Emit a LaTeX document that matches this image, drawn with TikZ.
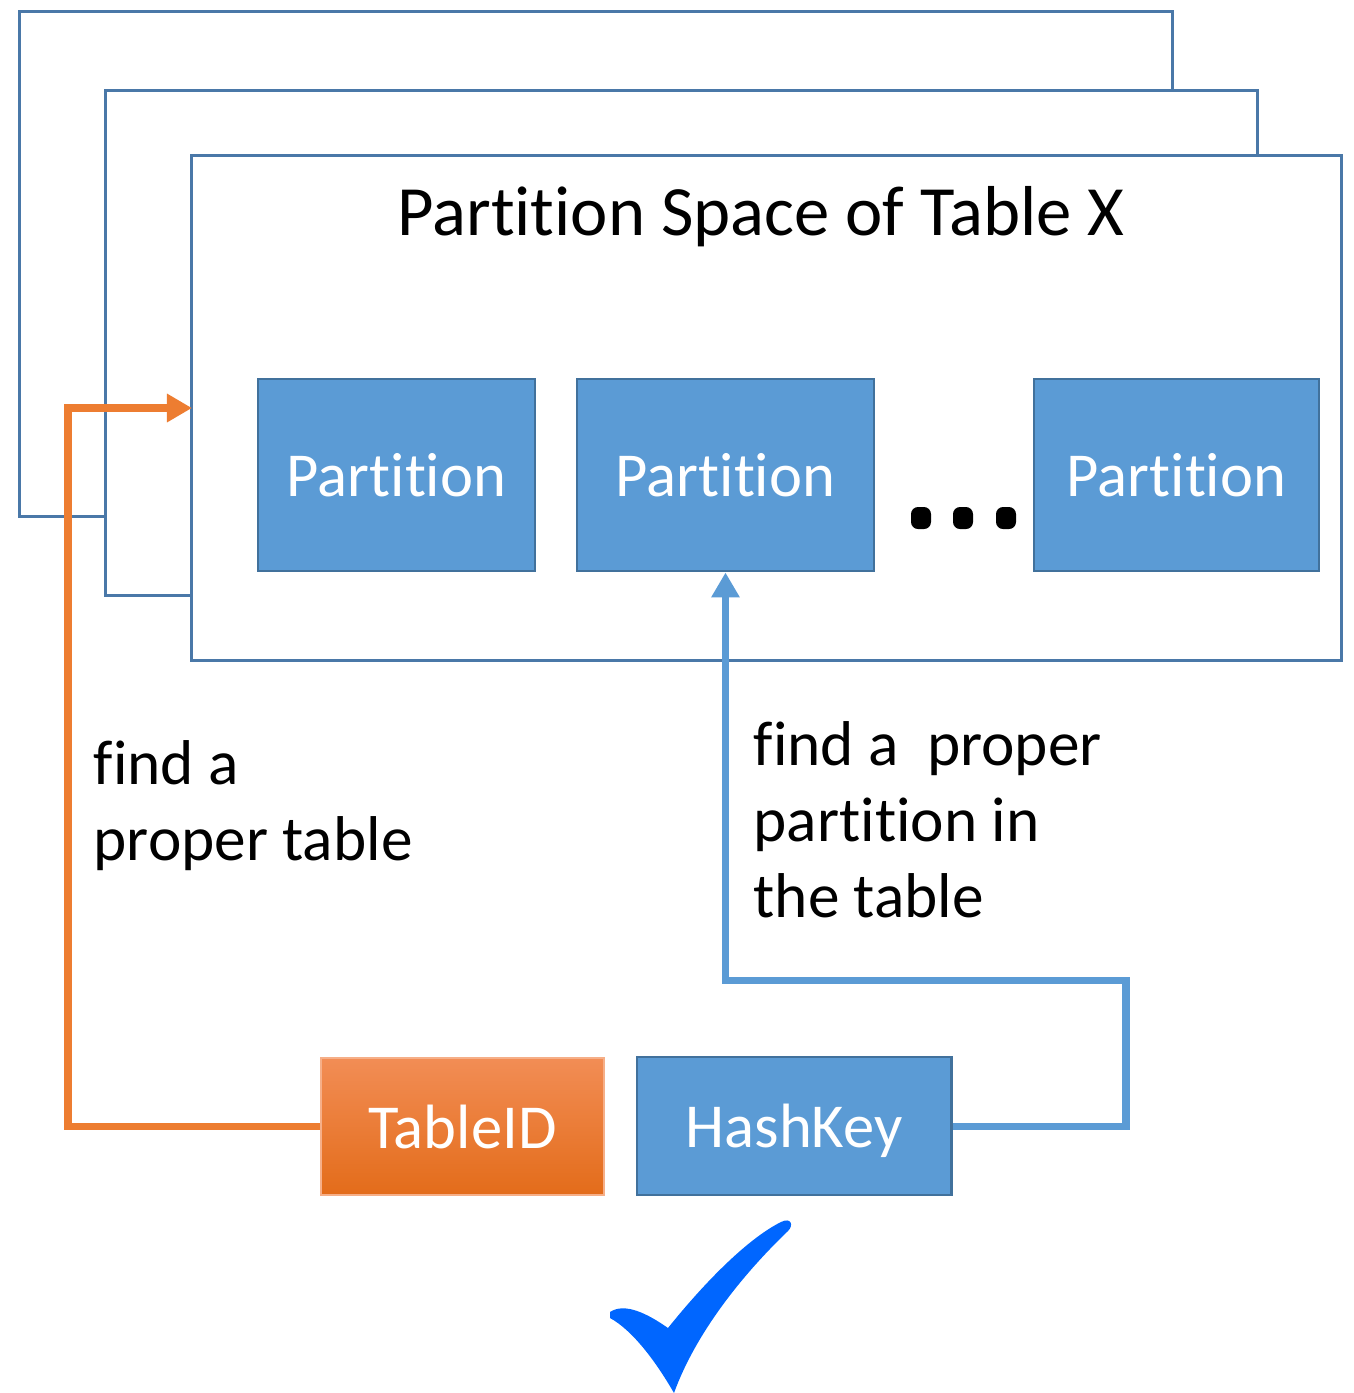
\documentclass[tikz,border=0pt]{standalone}
\usepackage{fontspec}
\setmainfont[Ligatures={NoCommon}]{Carlito}
\usetikzlibrary{arrows.meta}
\definecolor{framecol}{HTML}{4A78A8}
\definecolor{boxfill}{HTML}{5B9BD5}
\definecolor{boxline}{HTML}{41719C}
\definecolor{orangeln}{HTML}{ED7D31}
\definecolor{orangetop}{HTML}{F28D55}
\definecolor{orangebot}{HTML}{E36C1A}
\definecolor{checkblue}{HTML}{0066FF}
\tikzset{
  frame/.style={draw=framecol, fill=white, line width=0.85pt, inner sep=0pt},
  pbox/.style={draw=boxline, fill=boxfill, line width=0.8pt, text=white,
    font=\fontsize{17.8pt}{20pt}\selectfont, text depth=0pt, inner sep=0pt},
  tbox/.style={top color=orangetop, bottom color=orangebot, draw=orangetop!70!white,
    line width=0.4pt, text=white, font=\fontsize{17.8pt}{20pt}\selectfont,
    text depth=0pt, inner sep=0pt},
  label/.style={align=left, inner sep=0pt, font=\fontsize{18pt}{21.6pt}\selectfont},
  orangearrow/.style={draw=orangeln, line width=2.1pt,
    -{Triangle[length=0.25cm, width=0.27cm]}},
  bluearrow/.style={draw=boxfill, line width=2pt,
    -{Triangle[length=0.25cm, width=0.27cm]}},
}
\begin{document}
\begin{tikzpicture}[x=0.01cm, y=-0.01cm]
\useasboundingbox (0,0) rectangle (1353,1393);

% stacked table frames, back to front
\node[frame, minimum width=11.52cm, minimum height=5.04cm] (f1) at (596,264) {};
\node[frame, minimum width=11.51cm, minimum height=5.04cm] (f2) at (681.5,343) {};
\node[frame, minimum width=11.49cm, minimum height=5.04cm] (f3) at (766.5,408) {};

\node[anchor=base, font=\fontsize{20.1pt}{24pt}\selectfont] (title) at (761,235)
  {Partition Space of Table X};

% partitions
\node[pbox, minimum width=2.77cm, minimum height=1.92cm] (p1) at (396.5,475) {Partition};
\node[pbox, minimum width=2.97cm, minimum height=1.92cm] (p2) at (725.5,475) {Partition};
\node[pbox, minimum width=2.85cm, minimum height=1.92cm] (p3) at (1176.5,475) {Partition};

% ellipsis between partitions
\foreach \cx in {921, 963, 1006}
  \fill[rounded corners=2pt] (\cx-10,507) rectangle (\cx+10,529);

% key parts
\node[tbox, minimum width=2.83cm, minimum height=1.37cm] (tid) at (462.5,1126.5) {TableID};
\node[pbox, minimum width=3.14cm, minimum height=1.38cm] (hk) at (794,1126) {HashKey};

% connectors
\coordinate (tin) at (192,408);
\draw[orangearrow] (tid.west) -| (68,408) -- (tin);
\draw[bluearrow] (hk.east) -| (1126,980) -| (p2.south);

% labels (base anchor sits on the last line)
\node[label, anchor=base west] (lt) at (93,860) {find a\\proper table};
\node[label, anchor=base west] (lh) at (753,917) {find a~ proper\\partition in\\the table};

% check mark
\fill[checkblue] (610,1312)
  .. controls (625,1302) and (648,1314) .. (668,1328)
  .. controls (700,1288) and (745,1240) .. (781,1222)
  .. controls (791,1217) and (794,1225) .. (788,1231)
  .. controls (740,1277) and (695,1335) .. (674,1393)
  .. controls (655,1360) and (632,1330) .. (610,1318) -- cycle;
\end{tikzpicture}
\end{document}
